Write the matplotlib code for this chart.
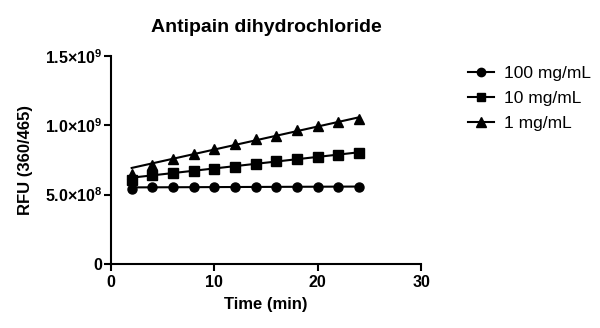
import numpy as np
import matplotlib.pyplot as plt

plt.rcParams['font.family'] = ['Liberation Sans', 'DejaVu Sans']
plt.rcParams['mathtext.fontset'] = 'custom'
plt.rcParams['mathtext.rm'] = 'Liberation Sans:bold'
plt.rcParams['mathtext.bf'] = 'Liberation Sans:bold'

# time points (min)
tiempo = [2, 4, 6, 8, 10, 12, 14, 16, 18, 20, 22, 24]

# RFU values (x1e9)
rfu_100 = [0.540, 0.552, 0.553, 0.554, 0.555, 0.555, 0.555, 0.556, 0.556, 0.556, 0.557, 0.557]
rfu_10 = [0.605, 0.640, 0.654, 0.668, 0.685, 0.700, 0.720, 0.740, 0.755, 0.774, 0.786, 0.803]
rfu_1 = [0.650, 0.714, 0.755, 0.790, 0.830, 0.865, 0.900, 0.925, 0.966, 0.997, 1.020, 1.045]

# linear fit lines (start at 2 min, end at 24 min), x1e9
fit_x = [2, 24]
fit_100 = [0.552, 0.558]
fit_10 = [0.622, 0.805]
fit_1 = [0.692, 1.057]

etiquetas = ['100 mg/mL', '10 mg/mL', '1 mg/mL']
marcadores = ['o', 's', '^']
tamanos = [6.5, 6.5, 7.5]

fig = plt.figure(figsize=(6, 3.28), dpi=100)
ax = fig.add_axes([0.185, 0.195, 0.517, 0.635])

series = [rfu_100, rfu_10, rfu_1]
ajustes = [fit_100, fit_10, fit_1]
for vals, fit, lab, m, s in zip(series, ajustes, etiquetas, marcadores, tamanos):
    ax.plot(tiempo, np.array(vals) * 1e9, linestyle='none', marker=m, markersize=s, color='black')
    ax.plot(fit_x, np.array(fit) * 1e9, color='black', linewidth=1.5)
    # legend handle: line + marker
    ax.plot([], [], color='black', linewidth=1.5, marker=m, markersize=s - 0.5, label=lab)

ax.set_xlim(0, 30)
ax.set_ylim(0, 1.5e9)
ax.set_xticks([0, 10, 20, 30])
ax.set_yticks([0, 5e8, 1e9, 1.5e9])
ax.set_yticklabels(['0', r'5.0$\times$10$^{8}$', r'1.0$\times$10$^{9}$', r'1.5$\times$10$^{9}$'])

for sp in ['top', 'right']:
    ax.spines[sp].set_visible(False)
for sp in ['left', 'bottom']:
    ax.spines[sp].set_linewidth(1.5)
ax.tick_params(width=1.5, length=5, labelsize=11.5)
ax.tick_params(axis='y', pad=1)
ax.tick_params(axis='x', pad=3)
for lbl in ax.get_xticklabels() + ax.get_yticklabels():
    lbl.set_fontweight('bold')

ax.set_xlabel('Time (min)', fontsize=12, fontweight='bold', labelpad=5)
ax.set_ylabel('RFU (360/465)', fontsize=12, fontweight='bold', labelpad=9)
ax.set_title('Antipain dihydrochloride', fontsize=14, fontweight='bold', pad=17)

leg = ax.legend(loc='upper left', bbox_to_anchor=(1.1, 1.025), frameon=False,
                fontsize=12.5, handlelength=1.5, labelspacing=0.55, handletextpad=0.6)

plt.savefig('out.png', dpi=100)
